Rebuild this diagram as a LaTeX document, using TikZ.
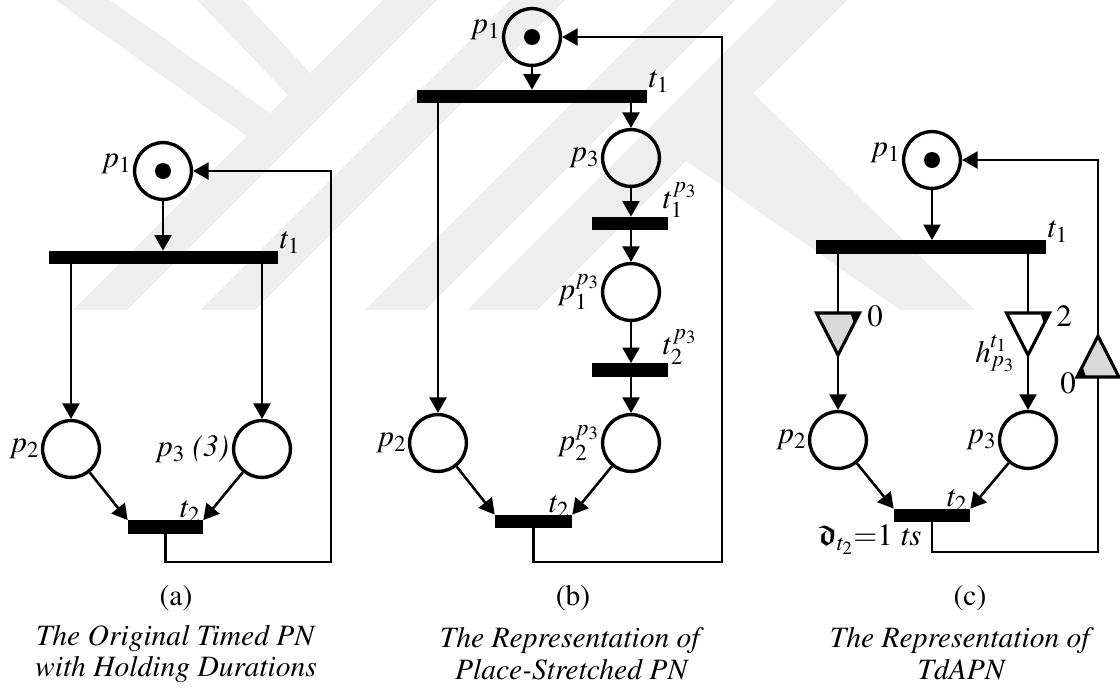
\documentclass[tikz,border=0pt]{standalone}
\usepackage[T1]{fontenc}
\usepackage{amsmath,amssymb}
\usepackage{mathptmx}
\usepackage{tikz}
\usetikzlibrary{arrows.meta, positioning, calc}
\definecolor{delaygray}{RGB}{217,217,217}
\definecolor{wmgray}{RGB}{238,238,238}

\begin{document}
\begin{tikzpicture}[x=0.025cm, y=-0.025cm,
  place/.style={circle, draw, line width=2.4pt, minimum size=1.42cm, inner sep=0pt},
  trans/.style={rectangle, fill=black, inner sep=0pt, minimum height=0.33cm},
  arc/.style={line width=1.8pt, -{Triangle[length=11pt, width=12pt]}},
  line/.style={line width=1.8pt},
  delay/.style={line width=2.2pt, line join=miter},
  lbl/.style={font=\fontsize{22}{26}\selectfont, inner sep=1pt},
  captxt/.style={font=\fontsize{21}{22.7}\selectfont, align=center}]
  \useasboundingbox (0,0) rectangle (1120,687);

  % watermark
  \fill[wmgray] (55,0) -- (110,0) -- (270,113) -- (248,137) -- cycle;
  \fill[wmgray] (197,0) -- (243,0) -- (310,73) -- (288,95) -- cycle;
  \fill[wmgray] (73,310) -- (127,310) -- (437,0) -- (383,0) -- cycle;
  \fill[wmgray] (200,310) -- (255,310) -- (565,0) -- (510,0) -- cycle;
  \fill[wmgray] (365,310) -- (425,310) -- (735,0) -- (675,0) -- cycle;
  \fill[wmgray] (467,310) -- (537,310) -- (847,0) -- (777,0) -- cycle;
  \fill[wmgray] (753,93) -- (685,160) -- (900,310) -- (975,310) -- cycle;

  % (a) original timed PN
  \node[place] (p1a) at (163,171) {};
  \fill (p1a) circle (0.2cm);
  \node[trans, minimum width=5.725cm] (t1a) at (163.5,257.5) {};
  \node[place] (p2a) at (71,449) {};
  \node[place] (p3a) at (262,449) {};
  \node[trans, minimum width=1.875cm] (t2a) at (165.5,527) {};

  \node[lbl, left=0pt of p1a, yshift=5pt] (p1a-l) {$p_1$};
  \node[lbl, above right=-3pt and 0pt of t1a.north east] (t1a-l) {$t_1$};
  \node[lbl, left=0pt of p2a] (p2a-l) {$p_2$};
  \node[lbl, left=1pt of p3a] (p3a-l) {$p_3$ \textit{(3)}};
  \node[lbl, above left=-3pt and 1pt of t2a.north east] (t2a-l) {$t_2$};

  \draw[arc] (p1a.south) -- (p1a.south |- t1a.north);
  \draw[arc] (t1a.south -| p2a) -- (p2a);
  \draw[arc] (t1a.south -| p3a) -- (p3a);
  \draw[arc] (p2a) -- (t2a.north west);
  \draw[arc] (p3a) -- (t2a.north east);
  \coordinate (ra) at (331,562);
  \draw[arc] (t2a.south) |- (ra) |- (p1a.east);

  % (b) place-stretched PN
  \node[place] (p1b) at (532,37) {};
  \fill (p1b) circle (0.2cm);
  \node[trans, minimum width=5.75cm] (t1b) at (532,96.5) {};
  \node[place] (p3b) at (631,158) {};
  \node[trans, minimum width=1.9cm] (t3b) at (630,223.5) {};
  \node[place] (p4b) at (631,292) {};
  \node[trans, minimum width=1.9cm] (t4b) at (630,370) {};
  \node[place] (p5b) at (631,443) {};
  \node[place] (p2b) at (438,443) {};
  \node[trans, minimum width=1.925cm] (t2b) at (533.5,521.5) {};

  \node[lbl, left=0pt of p1b, yshift=5pt] (p1b-l) {$p_1$};
  \node[lbl, above right=-3pt and 0pt of t1b.north east] (t1b-l) {$t_1$};
  \node[lbl, left=0pt of p3b] (p3b-l) {$p_3$};
  \node[lbl, above right=-2pt and -5pt of t3b.north east] (t3b-l) {$t_1^{p_3}$};
  \node[lbl, left=0pt of p4b] (p4b-l) {$p_1^{p_3}$};
  \node[lbl, above right=-2pt and -5pt of t4b.north east] (t4b-l) {$t_2^{p_3}$};
  \node[lbl, left=0pt of p5b] (p5b-l) {$p_2^{p_3}$};
  \node[lbl, left=0pt of p2b] (p2b-l) {$p_2$};
  \node[lbl, above left=-3pt and 1pt of t2b.north east] (t2b-l) {$t_2$};

  \draw[arc] (p1b.south) -- (p1b.south |- t1b.north);
  \draw[arc] (t1b.south -| p2b) -- (p2b);
  \draw[arc] (t1b.south -| p3b) -- (p3b);
  \draw[arc] (p3b) -- (p3b |- t3b.north);
  \draw[arc] (t3b.south -| p4b) -- (p4b);
  \draw[arc] (p4b) -- (p4b |- t4b.north);
  \draw[arc] (t4b.south -| p5b) -- (p5b);
  \draw[arc] (p2b) -- (t2b.north west);
  \draw[arc] (p5b) -- (t2b.north east);
  \coordinate (rb) at (722,562);
  \draw[arc] (t2b.south) |- (rb) |- (p1b.east);

  % (c) TdAPN
  \node[place] (p1c) at (932,160) {};
  \fill (p1c) circle (0.2cm);
  \node[trans, minimum width=5.75cm] (t1c) at (931,247) {};
  \node[place] (p2c) at (838,440) {};
  \node[place] (p3c) at (1028,440) {};
  \node[trans, minimum width=1.9cm] (t2c) at (932,515.5) {};

  \node[lbl, left=0pt of p1c, yshift=5pt] (p1c-l) {$p_1$};
  \node[lbl, above right=-3pt and 0pt of t1c.north east] (t1c-l) {$t_1$};
  \node[lbl, left=0pt of p2c] (p2c-l) {$p_2$};
  \node[lbl, left=0pt of p3c] (p3c-l) {$p_3$};
  \node[lbl, above left=-3pt and 1pt of t2c.north east] (t2c-l) {$t_2$};
  \node[lbl] (t2c-d) at (870,540) {$\boldsymbol{\mathfrak{d}}_{t_2}{=}1\ \mathit{ts}$};

  % delays
  \coordinate (d1) at (838,313);
  \coordinate (d2) at (1028,313);
  \coordinate (d3) at (1098,377);
  \draw[delay, fill=delaygray] ($(d1)+(-21.5,0)$) -- ($(d1)+(21.5,0)$) -- ($(d1)+(0,42)$) -- cycle;
  \fill ($(d1)+(21.5,0)$) -- ++(-9,0) -- ++(3.5,10.7) -- cycle;
  \draw[delay, fill=white] ($(d2)+(-21.5,0)$) -- ($(d2)+(21.5,0)$) -- ($(d2)+(0,42)$) -- cycle;
  \fill ($(d2)+(21.5,0)$) -- ++(-9,0) -- ++(3.5,10.7) -- cycle;
  \draw[delay, fill=delaygray] ($(d3)+(-21,0)$) -- ($(d3)+(21,0)$) -- ($(d3)+(0,-41)$) -- cycle;
  \fill ($(d3)+(-21,0)$) -- ++(9,0) -- ++(-3.5,-10.7) -- cycle;
  \node[lbl] (d1-l) at (875,316) {0};
  \node[lbl] (d2-l) at (1064,316) {2};
  \node[lbl] (d2-h) at (995,353) {$h_{p_3}^{t_1}$};
  \node[lbl] (d3-l) at (1068,383) {0};

  \draw[arc] (p1c.south) -- (p1c.south |- t1c.north);
  \draw[line] (t1c.south -| d1) -- (d1);
  \draw[arc] ($(d1)+(0,42)$) -- (p2c);
  \draw[line] (t1c.south -| d2) -- (d2);
  \draw[arc] ($(d2)+(0,42)$) -- (p3c);
  \draw[arc] (p2c) -- (t2c.north west);
  \draw[arc] (p3c) -- (t2c.north east);
  \coordinate (rc) at (1098,552);
  \draw[line] (t2c.south) |- (rc) -- (d3);
  \draw[arc] ($(d3)+(0,-41)$) |- (p1c.east);

  % captions
  \node[captxt] (cap-a) at (176,598) {(a)};
  \node[captxt] (txt-a) at (176,654) {\textit{The Original Timed PN}\\\textit{with Holding Durations}};
  \node[captxt] (cap-b) at (573,598) {(b)};
  \node[captxt] (txt-b) at (572,654) {\textit{The Representation of}\\\textit{Place-Stretched PN}};
  \node[captxt] (cap-c) at (970,598) {(c)};
  \node[captxt] (txt-c) at (962,654) {\textit{The Representation of}\\\textit{TdAPN}};
\end{tikzpicture}
\end{document}
